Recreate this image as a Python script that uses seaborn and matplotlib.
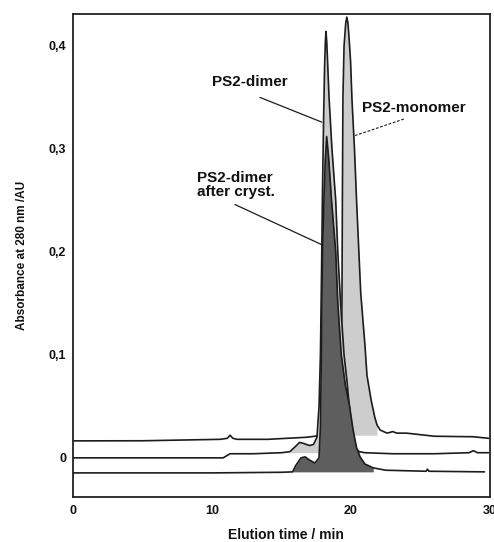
import numpy as np
import matplotlib
matplotlib.use("Agg")
import matplotlib.pyplot as plt
import seaborn as sns

# ---------------- data ----------------
monomer_t = [0, 5, 10.6, 11.1, 11.3, 11.5, 11.8, 14, 16.8, 17.4, 18.0, 18.5, 19.0, 19.2, 19.3,
             19.35, 19.38, 19.42, 19.5, 19.62, 19.7, 19.78, 19.86, 19.97, 20.07, 20.25, 20.4,
             20.7, 21.0, 21.15, 21.45, 21.7, 21.87, 22.1, 22.6, 23.0, 23.3, 24.0, 26.0, 28.8, 29.9]
monomer_v = [0.0165, 0.0166, 0.018, 0.019, 0.022, 0.019, 0.018, 0.018, 0.020, 0.021, 0.022, 0.03,
             0.04, 0.06, 0.10, 0.15, 0.25, 0.35, 0.400, 0.422, 0.428, 0.422, 0.408, 0.385, 0.348,
             0.30, 0.25, 0.160, 0.110, 0.080, 0.056, 0.040, 0.032, 0.027, 0.024, 0.0255, 0.024,
             0.024, 0.021, 0.0205, 0.019]

dimer_t = [0, 5, 10.8, 11.3, 13, 15.0, 15.6, 16.0, 16.3, 16.6, 17.0, 17.3, 17.55, 17.7, 17.8,
           17.88, 17.95, 18.03, 18.1, 18.16, 18.2, 18.25, 18.3, 18.42, 18.63, 18.9, 19.05, 19.25,
           19.5, 19.7, 19.95, 20.2, 20.4, 20.6, 21.0, 23, 26, 28.5, 28.8, 29.1, 29.9]
dimer_v = [0.0, 0.0, 0.0, 0.004, 0.004, 0.005, 0.006, 0.011, 0.015, 0.014, 0.012, 0.013, 0.02,
           0.05, 0.10, 0.18, 0.26, 0.33, 0.38, 0.405, 0.414, 0.405, 0.39, 0.35, 0.30, 0.25, 0.20,
           0.15, 0.10, 0.076, 0.04, 0.018, 0.008, 0.006, 0.005, 0.004, 0.004, 0.005, 0.007,
           0.005, 0.005]

cryst_t = [0, 5, 10, 15.0, 15.8, 16.0, 16.4, 16.7, 17.0, 17.4, 17.7, 17.8, 17.85, 17.9, 17.95,
           18.05, 18.15, 18.25, 18.4, 18.6, 18.9, 19.05, 19.3, 19.6, 19.9, 20.15, 20.4, 20.65,
           21.0, 21.6, 22.5, 25.4, 25.5, 25.6, 29.6]
cryst_v = [-0.0146, -0.0146, -0.0146, -0.0140, -0.0136, -0.008, 0.0, 0.001, -0.002, -0.005, 0.0,
           0.03, 0.08, 0.15, 0.20, 0.25, 0.29, 0.312, 0.29, 0.25, 0.20, 0.15, 0.10, 0.07, 0.05,
           0.027, 0.01, 0.001, -0.006, -0.0097, -0.012, -0.013, -0.011, -0.013, -0.0136]

x_ticks = [0, 10, 20, 30]
x_tick_labels = ["0", "10", "20", "30"]
y_ticks = [0, 0.1, 0.2, 0.3, 0.4]
y_tick_labels = ["0", "0,1", "0,2", "0,3", "0,4"]

# ---------------- style ----------------
sns.set_theme(style="white")
plt.rcParams['font.family'] = ['Liberation Sans', 'DejaVu Sans']

fig = plt.figure(figsize=(4.94, 5.42), dpi=100)
ax = fig.add_axes([73 / 494, 1 - 497 / 542, 417 / 494, 483 / 542])

LINE = "#1c1c1c"
LIGHT = "#cdcdcd"
DARK = "#5e5e5e"

mt, mv = np.array(monomer_t), np.array(monomer_v)
dt, dv = np.array(dimer_t), np.array(dimer_v)
ct, cv = np.array(cryst_t), np.array(cryst_v)

# monomer
ax.fill_between(mt, mv, 0.022, where=(mt >= 18.0) & (mt <= 21.87), color=LIGHT, lw=0, zorder=1)
sns.lineplot(x=mt, y=mv, sort=False, estimator=None, color=LINE, linewidth=1.2, ax=ax, zorder=2)
# dimer
ax.fill_between(dt, dv, 0.005, where=(dt >= 15.6) & (dt <= 20.6), color=LIGHT, lw=0, zorder=3)
sns.lineplot(x=dt, y=dv, sort=False, estimator=None, color=LINE, linewidth=1.2, ax=ax, zorder=4)
# dimer after cryst.
ax.fill_between(ct, cv, -0.0136, where=(ct >= 15.8) & (ct <= 21.6), color=DARK, lw=0, zorder=5)
sns.lineplot(x=ct, y=cv, sort=False, estimator=None, color=LINE, linewidth=1.2, ax=ax, zorder=6)

# ---------------- annotations ----------------
tk = dict(fontsize=11, fontweight='bold', color='#111111')
ax.text(10.0, 0.365, "PS2-dimer", ha='left', va='center', **tk)
ax.text(8.92, 0.2646, "PS2-dimer\nafter cryst.", ha='left', va='center', linespacing=1.0, **tk)
ax.text(20.8, 0.34, "PS2-monomer", ha='left', va='center', **tk)
ax.plot([13.45, 17.9], [0.35, 0.326], color=LINE, lw=0.9, zorder=7)
ax.plot([11.65, 17.9], [0.246, 0.207], color=LINE, lw=0.9, zorder=7)
ax.plot([23.8, 20.3], [0.329, 0.313], color=LINE, lw=0.8, ls=(0, (2.5, 1.5)), zorder=7)

# ---------------- axes ----------------
ax.set_xlim(0, 30)
ax.set_ylim(-0.038, 0.431)
ax.set_xticks(x_ticks)
ax.set_xticklabels(x_tick_labels)
ax.set_yticks(y_ticks)
ax.set_yticklabels(y_tick_labels)
ax.tick_params(axis='both', which='major', labelsize=9, length=3, width=1,
               color='#222222', labelcolor='#111111', pad=2)
ax.tick_params(axis='x', direction='in', pad=6)
ax.tick_params(axis='y', direction='out')
for lab in ax.get_xticklabels() + ax.get_yticklabels():
    lab.set_fontweight('bold')
for s in ax.spines.values():
    s.set_visible(True)
    s.set_color('#222222')
    s.set_linewidth(1.3)

ax.set_xlabel("Elution time / min", fontsize=10, fontweight='bold', color='#111111')
ax.set_ylabel("Absorbance at 280 nm /AU", fontsize=8.5, fontweight='bold', color='#111111')
ax.xaxis.set_label_coords(0.51, -0.064)
ax.yaxis.set_label_coords(-0.108, 0.5)
ax.grid(False)

fig.savefig("out.png", dpi=100)
